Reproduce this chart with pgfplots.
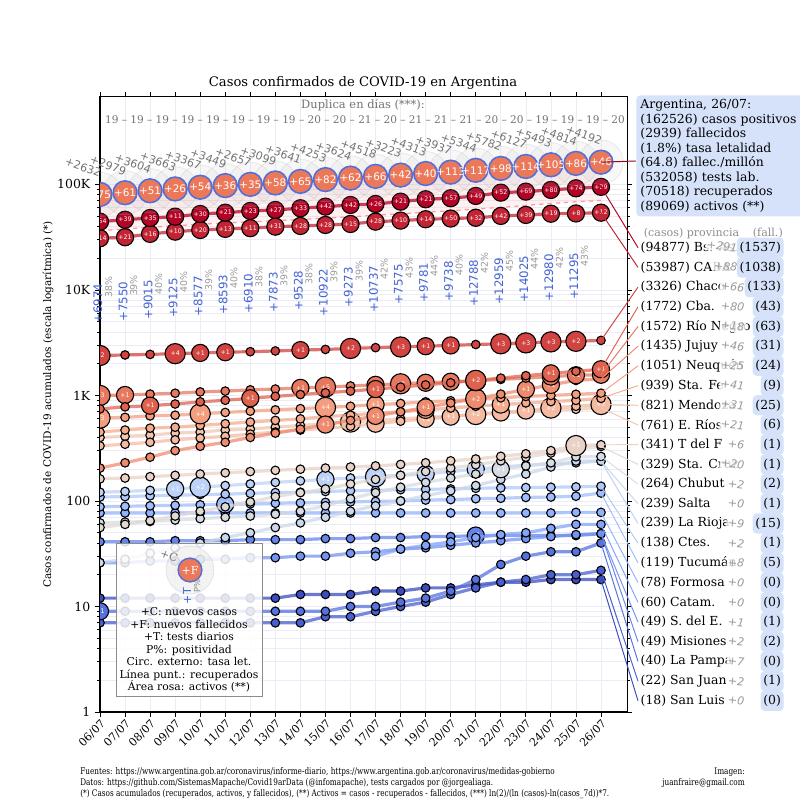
\documentclass[border=0pt]{standalone}
\usepackage{pgfplots}
\pgfplotsset{compat=1.18}
\usepackage{pgfplotstable}
\usepackage{fontspec}
\setmainfont{DejaVu Serif}
\setsansfont{DejaVu Sans}
\newfontfamily\condfont[FakeStretch=0.8]{DejaVu Serif}
\newcommand\fs[1]{\fontsize{#1}{#1}\selectfont}
\newcommand\provfont{\sffamily\fontsize{4.5}{5}\selectfont}

% coolwarm-like colours, by rank of cases
\definecolor{cBA}{RGB}{180,4,38}
\definecolor{cCABA}{RGB}{195,36,52}
\definecolor{cCha}{RGB}{209,68,65}
\definecolor{cCba}{RGB}{223,98,79}
\definecolor{cRN}{RGB}{231,119,95}
\definecolor{cJuj}{RGB}{238,139,111}
\definecolor{cNeu}{RGB}{244,158,127}
\definecolor{cSF}{RGB}{244,172,141}
\definecolor{cMen}{RGB}{245,187,162}
\definecolor{cER}{RGB}{242,199,178}
\definecolor{cTdF}{RGB}{233,209,197}
\definecolor{cSCr}{RGB}{225,217,213}
\definecolor{cChu}{RGB}{215,219,226}
\definecolor{cSal}{RGB}{203,215,235}
\definecolor{cLR}{RGB}{189,210,247}
\definecolor{cCtes}{RGB}{175,200,250}
\definecolor{cTuc}{RGB}{160,190,252}
\definecolor{cFor}{RGB}{145,179,254}
\definecolor{cCat}{RGB}{130,164,249}
\definecolor{cSdE}{RGB}{115,148,241}
\definecolor{cMis}{RGB}{100,132,235}
\definecolor{cLP}{RGB}{86,114,222}
\definecolor{cSJ}{RGB}{73,95,206}
\definecolor{cSL}{RGB}{59,76,192}
\definecolor{cArg}{RGB}{236,120,90}
\definecolor{cArgE}{RGB}{80,110,220}
\definecolor{tblue}{RGB}{68,100,210}
\definecolor{infob}{RGB}{214,226,250}
\definecolor{gridc}{RGB}{236,236,246}

% Argentina: day, cases, new deaths, new cases
\pgfplotstableread{
d v f c
6 80447 +75 +2632
7 83426 +61 +2979
8 87030 +51 +3604
9 90693 +26 +3663
10 94060 +54 +3367
11 97509 +36 +3449
12 100166 +35 +2657
13 103265 +58 +3099
14 106910 +65 +3641
15 111160 +82 +4253
16 114783 +62 +3624
17 119301 +66 +4518
18 122524 +42 +3223
19 126837 +40 +4313
20 130774 +113 +3937
21 136118 +117 +5344
22 141900 +98 +5782
23 148027 +114 +6127
24 153520 +105 +5493
25 158334 +86 +4814
26 162526 +46 +4192
}\argtab

% daily tests and positivity (placed under the cases curve)
\pgfplotstableread{
d v t p
6 80447 6974 38
7 83426 7550 39
8 87030 9015 40
9 90693 9125 40
10 94060 8577 39
11 97509 8593 40
12 100166 6910 38
13 103265 7873 39
14 106910 9528 38
15 111160 10922 39
16 114783 9273 39
17 119301 10737 42
18 122524 7575 43
19 126837 9781 44
20 130774 9738 40
21 136118 12788 42
22 141900 12959 45
23 148027 14025 44
24 153520 12980 42
25 158334 11295 43
}\testtab

\tikzset{labnode/.style={anchor=center, text=white, font=\provfont, inner sep=0pt}}
% one province: line, small circles, bigger circles with the new deaths
\newcommand\prov[2]{%
  \addplot[color=#1, line width=2.3pt, opacity=0.75, forget plot] table[x=d,y=v,row sep=\\]{#2};
  \addplot[only marks, mark=*, mark size=3.1pt, forget plot,
    mark options={fill=#1, draw=black, line width=0.8pt}] table[x=d,y=v,row sep=\\]{#2};
  \addplot[only marks, mark=*, mark size=6.2pt, forget plot,
    mark options={fill=#1, draw=black, line width=0.8pt},
    restrict expr to domain={\thisrow{s}}{4:6.8},
    nodes near coords, point meta=explicit symbolic, every node near coord/.style={labnode}]
    table[x=d,y=v,meta=l,row sep=\\]{#2};
  \addplot[only marks, mark=*, mark size=7.3pt, forget plot,
    mark options={fill=#1, draw=black, line width=0.8pt},
    restrict expr to domain={\thisrow{s}}{6.8:100},
    nodes near coords, point meta=explicit symbolic, every node near coord/.style={labnode}]
    table[x=d,y=v,meta=l,row sep=\\]{#2};
}

\begin{document}
\begin{tikzpicture}
\useasboundingbox (0,0) rectangle (578.16pt,578.16pt);
\begin{axis}[
  at={(72.27pt,63.6pt)}, anchor=south west,
  scale only axis, width=380.9pt, height=444.5pt,
  ymode=log, xmin=6, xmax=27.04, ymin=1, ymax=675000,
  xtick={6,...,26},
  xticklabels={06/07,07/07,08/07,09/07,10/07,11/07,12/07,13/07,14/07,15/07,16/07,17/07,18/07,19/07,20/07,21/07,22/07,23/07,24/07,25/07,26/07},
  ytick={1,10,100,1000,10000,100000},
  yticklabels={1,10,100,1K,10K,100K},
  x tick label style={rotate=45, anchor=north east, font=\fs{8}, inner sep=1pt},
  y tick label style={font=\fs{9}},
  tick align=outside, major tick length=3.5pt, minor tick length=2pt,
  tick style={black, line width=0.6pt},
  grid=both, major grid style={gridc, line width=0.5pt}, minor grid style={gridc, line width=0.5pt},
  axis line style={line width=0.8pt},
  clip mode=individual, clip marker paths=true,
  ylabel={Casos confirmados de COVID-19 acumulados (escala logarítmica) (*)},
  ylabel style={font=\fs{7.6}, at={(axis description cs:-0.0987,0.5)}, anchor=center, rotate=0},
]

% active area and recovered
\addplot[fill=pink, fill opacity=0.22, draw=none, forget plot] coordinates {
 (6,80447) (7,83426) (8,87030) (9,90693) (10,94060) (11,97509) (12,100166)
 (13,103265) (14,106910) (15,111160) (16,114783) (17,119301) (18,122524)
 (19,126837) (20,130774) (21,136118) (22,141900) (23,148027) (24,153520)
 (25,158334) (26,162526)
 (26,70518) (25,68500) (24,66000) (23,63300) (22,60600) (21,58300) (20,56300)
 (19,54400) (18,52700) (17,51000) (16,49300) (15,47900) (14,46500) (13,45300)
 (12,44100) (11,43100) (10,41900) (9,40600) (8,39200) (7,37800) (6,36500)};
\addplot[color=pink!80!red, dashed, line width=0.9pt, forget plot] coordinates {
 (6,36500) (7,37800) (8,39200) (9,40600) (10,41900) (11,43100) (12,44100)
 (13,45300) (14,46500) (15,47900) (16,49300) (17,51000) (18,52700) (19,54400)
 (20,56300) (21,58300) (22,60600) (23,63300) (24,66000) (25,68500) (26,70518)};

% provinces, from the smallest to the largest
\prov{cSL}{d v s l\\6 12 3.2 {}\\7 12 3.2 {}\\8 12 3.2 {}\\9 12 3.2 {}\\10 12 3.2 {}\\11 12 3.2 {}\\12 12 3.2 {}\\13 12 3.2 {}\\14 13 3.2 {}\\15 13 3.2 {}\\16 13 3.2 {}\\17 14 3.2 {}\\18 14 3.2 {}\\19 15 3.2 {}\\20 15 3.2 {}\\21 16 3.2 {}\\22 17 3.2 {}\\23 17 3.2 {}\\24 18 3.2 {}\\25 18 3.2 {}\\26 18 3.2 {}\\}
\prov{cSJ}{d v s l\\6 7 3.2 {}\\7 7 3.2 {}\\8 7 3.2 {}\\9 7 3.2 {}\\10 7 3.2 {}\\11 7 3.2 {}\\12 7 3.2 {}\\13 7 3.2 {}\\14 7 3.2 {}\\15 8 3.2 {}\\16 8 3.2 {}\\17 9 3.2 {}\\18 10 3.2 {}\\19 11 3.2 {}\\20 13 3.2 {}\\21 15 3.2 {}\\22 17 3.2 {}\\23 18 3.2 {}\\24 20 3.2 {}\\25 20 3.2 {}\\26 22 3.2 {}\\}
\prov{cLP}{d v s l\\6 9 6 +1\\7 9 3.2 {}\\8 9 3.2 {}\\9 9 3.2 {}\\10 9 3.2 {}\\11 9 3.2 {}\\12 9 3.2 {}\\13 9 3.2 {}\\14 9 3.2 {}\\15 9 3.2 {}\\16 10 3.2 {}\\17 10 3.2 {}\\18 11 3.2 {}\\19 12 3.2 {}\\20 14 3.2 {}\\21 18 3.2 {}\\22 25 3.2 {}\\23 30 3.2 {}\\24 33 3.2 {}\\25 33 3.2 {}\\26 40 3.2 {}\\}
\prov{cMis}{d v s l\\6 41 3.2 {}\\7 41 3.2 {}\\8 41 3.2 {}\\9 42 3.2 {}\\10 42 3.2 {}\\11 42 3.2 {}\\12 43 3.2 {}\\13 43 3.2 {}\\14 43 3.2 {}\\15 44 3.2 {}\\16 44 3.2 {}\\17 45 3.2 {}\\18 45 3.2 {}\\19 46 3.2 {}\\20 46 3.2 {}\\21 47 6 +1\\22 47 3.2 {}\\23 47 3.2 {}\\24 47 3.2 {}\\25 47 3.2 {}\\26 49 3.2 {}\\}
\prov{cSdE}{d v s l\\6 26 3.2 {}\\7 26 3.2 {}\\8 27 3.2 {}\\9 27 3.2 {}\\10 28 3.2 {}\\11 28 3.2 {}\\12 29 3.2 {}\\13 29 3.2 {}\\14 30 3.2 {}\\15 30 3.2 {}\\16 32 3.2 {}\\17 33 3.2 {}\\18 35 3.2 {}\\19 36 3.2 {}\\20 38 3.2 {}\\21 40 3.2 {}\\22 42 3.2 {}\\23 44 3.2 {}\\24 46 3.2 {}\\25 48 3.2 {}\\26 49 3.2 {}\\}
\prov{cCat}{d v s l\\17 30 3.2 {}\\18 35 3.2 {}\\19 38 3.2 {}\\20 41 3.2 {}\\21 45 3.2 {}\\22 48 3.2 {}\\23 50 3.2 {}\\24 55 3.2 {}\\25 60 3.2 {}\\26 60 3.2 {}\\}
\prov{cFor}{d v s l\\6 77 3.2 {}\\7 77 3.2 {}\\8 77 3.2 {}\\9 77 3.2 {}\\10 77 3.2 {}\\11 77 3.2 {}\\12 77 3.2 {}\\13 77 3.2 {}\\14 77 3.2 {}\\15 77 3.2 {}\\16 77 3.2 {}\\17 77 3.2 {}\\18 77 3.2 {}\\19 77 3.2 {}\\20 77 3.2 {}\\21 77 3.2 {}\\22 77 3.2 {}\\23 77 3.2 {}\\24 77 3.2 {}\\25 78 3.2 {}\\26 78 3.2 {}\\}
\prov{cTuc}{d v s l\\6 88 3.2 {}\\7 89 3.2 {}\\8 90 3.2 {}\\9 91 3.2 {}\\10 92 3.2 {}\\11 93 6 +1\\12 94 3.2 {}\\13 95 3.2 {}\\14 96 3.2 {}\\15 97 3.2 {}\\16 98 3.2 {}\\17 99 3.2 {}\\18 100 3.2 {}\\19 102 3.2 {}\\20 103 3.2 {}\\21 105 3.2 {}\\22 106 3.2 {}\\23 108 3.2 {}\\24 109 3.2 {}\\25 111 3.2 {}\\26 119 3.2 {}\\}
\prov{cCtes}{d v s l\\6 109 3.2 {}\\7 110 3.2 {}\\8 112 3.2 {}\\9 113 3.2 {}\\10 115 3.2 {}\\11 116 3.2 {}\\12 118 3.2 {}\\13 120 3.2 {}\\14 121 3.2 {}\\15 123 3.2 {}\\16 125 3.2 {}\\17 126 3.2 {}\\18 128 3.2 {}\\19 129 3.2 {}\\20 130 3.2 {}\\21 132 3.2 {}\\22 133 3.2 {}\\23 134 3.2 {}\\24 135 3.2 {}\\25 136 3.2 {}\\26 138 3.2 {}\\}
\prov{cLR}{d v s l\\6 121 3.2 {}\\7 123 3.2 {}\\8 126 3.2 {}\\9 130 6.5 +1\\10 135 7 +2\\11 140 3.2 {}\\12 145 3.2 {}\\13 150 3.2 {}\\14 155 3.2 {}\\15 160 6.5 +1\\16 165 3.2 {}\\17 170 7 +2\\18 175 3.2 {}\\19 180 6.5 +1\\20 190 3.2 {}\\21 200 6.5 +1\\22 210 3.2 {}\\23 218 3.2 {}\\24 224 3.2 {}\\25 230 3.2 {}\\26 239 3.2 {}\\}
\prov{cSal}{d v s l\\6 26 3.2 {}\\7 28 3.2 {}\\8 32 3.2 {}\\9 36 3.2 {}\\10 40 3.2 {}\\11 45 3.2 {}\\12 50 3.2 {}\\13 56 3.2 {}\\14 62 3.2 {}\\15 70 3.2 {}\\16 80 3.2 {}\\17 90 3.2 {}\\18 100 3.2 {}\\19 112 3.2 {}\\20 125 3.2 {}\\21 140 3.2 {}\\22 160 3.2 {}\\23 180 3.2 {}\\24 210 3.2 {}\\25 239 3.2 {}\\26 239 3.2 {}\\}
\prov{cChu}{d v s l\\6 62 3.2 {}\\7 63 3.2 {}\\8 64 3.2 {}\\9 66 3.2 {}\\10 68 3.2 {}\\11 70 3.2 {}\\12 72 3.2 {}\\13 75 3.2 {}\\14 80 3.2 {}\\15 90 3.2 {}\\16 105 3.2 {}\\17 120 3.2 {}\\18 135 3.2 {}\\19 150 3.2 {}\\20 165 3.2 {}\\21 180 3.2 {}\\22 200 6 +1\\23 215 3.2 {}\\24 230 3.2 {}\\25 262 3.2 {}\\26 264 3.2 {}\\}
\prov{cSCr}{d v s l\\6 56 3.2 {}\\7 60 3.2 {}\\8 65 3.2 {}\\9 72 3.2 {}\\10 80 3.2 {}\\11 88 3.2 {}\\12 98 3.2 {}\\13 110 3.2 {}\\14 120 3.2 {}\\15 130 3.2 {}\\16 145 3.2 {}\\17 160 3.2 {}\\18 175 3.2 {}\\19 190 3.2 {}\\20 205 3.2 {}\\21 220 3.2 {}\\22 240 3.2 {}\\23 260 3.2 {}\\24 285 3.2 {}\\25 309 3.2 {}\\26 329 3.2 {}\\}
\prov{cTdF}{d v s l\\6 162 3.2 {}\\7 165 3.2 {}\\8 170 3.2 {}\\9 175 3.2 {}\\10 180 3.2 {}\\11 185 3.2 {}\\12 190 3.2 {}\\13 195 3.2 {}\\14 200 3.2 {}\\15 205 3.2 {}\\16 210 3.2 {}\\17 215 3.2 {}\\18 222 3.2 {}\\19 230 3.2 {}\\20 240 3.2 {}\\21 250 3.2 {}\\22 265 3.2 {}\\23 280 3.2 {}\\24 300 3.2 {}\\25 335 7 +1\\26 341 3.2 {}\\}
\prov{cER}{d v s l\\6 400 3.2 {}\\7 410 3.2 {}\\8 420 3.2 {}\\9 440 3.2 {}\\10 450 3.2 {}\\11 470 3.2 {}\\12 480 3.2 {}\\13 500 3.2 {}\\14 520 3.2 {}\\15 540 3.2 {}\\16 560 7 +3\\17 580 3.2 {}\\18 600 3.2 {}\\19 620 3.2 {}\\20 640 3.2 {}\\21 660 3.2 {}\\22 680 3.2 {}\\23 700 3.2 {}\\24 720 3.2 {}\\25 740 3.2 {}\\26 761 3.2 {}\\}
\prov{cMen}{d v s l\\6 333 3.2 {}\\7 345 3.2 {}\\8 360 3.2 {}\\9 380 3.2 {}\\10 395 3.2 {}\\11 410 3.2 {}\\12 430 3.2 {}\\13 450 3.2 {}\\14 470 3.2 {}\\15 490 3.2 {}\\16 510 3.2 {}\\17 540 6.5 +1\\18 570 3.2 {}\\19 600 6.5 +1\\20 630 6.5 +1\\21 660 7 +2\\22 690 6.5 +1\\23 720 6.5 +1\\24 760 7 +2\\25 790 3.2 {}\\26 821 7.5 +3\\}
\prov{cSF}{d v s l\\6 450 3.2 {}\\7 470 3.2 {}\\8 490 3.2 {}\\9 500 3.2 {}\\10 520 3.2 {}\\11 540 3.2 {}\\12 560 3.2 {}\\13 580 3.2 {}\\14 600 3.2 {}\\15 630 3.2 {}\\16 650 3.2 {}\\17 680 3.2 {}\\18 700 3.2 {}\\19 730 6.5 +1\\20 760 3.2 {}\\21 790 3.2 {}\\22 820 6.5 +1\\23 850 3.2 {}\\24 875 3.2 {}\\25 898 3.2 {}\\26 939 3.2 {}\\}
\prov{cNeu}{d v s l\\6 610 7 +3\\7 620 3.2 {}\\8 640 3.2 {}\\9 650 3.2 {}\\10 670 7.5 +4\\11 690 3.2 {}\\12 710 3.2 {}\\13 730 3.2 {}\\14 750 3.2 {}\\15 770 7.5 +4\\16 790 3.2 {}\\17 820 6.5 +1\\18 840 3.2 {}\\19 870 3.2 {}\\20 890 3.2 {}\\21 920 6.5 +1\\22 950 3.2 {}\\23 980 3.2 {}\\24 1000 3.2 {}\\25 1026 3.2 {}\\26 1051 3.2 {}\\}
\prov{cJuj}{d v s l\\6 205 3.2 {}\\7 230 3.2 {}\\8 260 3.2 {}\\9 300 3.2 {}\\10 330 3.2 {}\\11 360 3.2 {}\\12 400 3.2 {}\\13 440 3.2 {}\\14 480 3.2 {}\\15 530 6.5 +1\\16 580 3.2 {}\\17 640 6.5 +1\\18 700 3.2 {}\\19 770 6.5 +1\\20 850 3.2 {}\\21 930 7 +2\\22 1030 3.2 {}\\23 1140 6.5 +1\\24 1260 6.5 +1\\25 1389 3.2 {}\\26 1435 3.2 {}\\}
\prov{cRN}{d v s l\\6 1000 7 +3\\7 1010 6.5 +1\\8 1030 3.2 {}\\9 1050 3.2 {}\\10 1080 3.2 {}\\11 1100 3.2 {}\\12 1130 3.2 {}\\13 1150 3.2 {}\\14 1180 6.5 +1\\15 1200 7.5 +5\\16 1230 3.2 {}\\17 1260 6.5 +1\\18 1290 7 +2\\19 1320 6.5 +1\\20 1350 6.5 +1\\21 1380 7 +2\\22 1420 3.2 {}\\23 1460 3.2 {}\\24 1510 6.5 +1\\25 1554 6.5 +1\\26 1572 6.5 +1\\}
\prov{cCba}{d v s l\\6 745 3.2 {}\\7 780 3.2 {}\\8 800 6.5 +1\\9 830 3.2 {}\\10 870 3.2 {}\\11 900 3.2 {}\\12 940 6.5 +1\\13 980 3.2 {}\\14 1020 3.2 {}\\15 1060 3.2 {}\\16 1100 3.2 {}\\17 1150 6.5 +1\\18 1200 3.2 {}\\19 1260 3.2 {}\\20 1320 3.2 {}\\21 1390 7 +2\\22 1460 3.2 {}\\23 1540 3.2 {}\\24 1620 6.5 +1\\25 1692 3.2 {}\\26 1772 6.5 +1\\}
\prov{cCha}{d v s l\\6 2390 7 +2\\7 2420 3.2 {}\\8 2450 3.2 {}\\9 2490 7.5 +4\\10 2530 6.5 +1\\11 2570 6.5 +1\\12 2600 3.2 {}\\13 2640 3.2 {}\\14 2690 6.5 +1\\15 2730 3.2 {}\\16 2790 7 +2\\17 2840 3.2 {}\\18 2880 7 +3\\19 2930 6.5 +1\\20 2980 6.5 +1\\21 3040 3.2 {}\\22 3090 7 +3\\23 3150 7 +3\\24 3220 7 +3\\25 3260 7 +2\\26 3326 3.2 {}\\}
\prov{cCABA}{d v s l\\6 30900 6.1 +14\\7 31600 6.1 +21\\8 34000 6.1 +16\\9 35700 6.1 +10\\10 37000 6.1 +20\\11 37900 6.1 +13\\12 38500 6.1 +11\\13 39800 6.1 +31\\14 40400 6.1 +28\\15 41300 6.1 +28\\16 42200 6.1 +15\\17 44400 6.1 +28\\18 45400 6.1 +10\\19 46800 6.1 +14\\20 47500 6.1 +50\\21 48300 6.1 +32\\22 50300 6.1 +42\\23 51400 6.1 +39\\24 52800 6.1 +19\\25 53099 6.1 +8\\26 53987 6.1 +12\\}
\prov{cBA}{d v s l\\6 44400 6.1 +54\\7 46300 6.1 +39\\8 48100 6.1 +35\\9 49500 6.1 +11\\10 52500 6.1 +30\\11 54000 6.1 +21\\12 56100 6.1 +23\\13 57300 6.1 +27\\14 59500 6.1 +33\\15 61600 6.1 +42\\16 63900 6.1 +42\\17 65300 6.1 +26\\18 68700 6.1 +21\\19 72400 6.1 +21\\20 74000 6.1 +57\\21 77800 6.1 +49\\22 83600 6.1 +52\\23 85500 6.1 +69\\24 88700 6.1 +80\\25 91960 6.1 +74\\26 94877 6.1 +29\\}

% Argentina: outer circle (fatality rate), circle with new deaths
\addplot[only marks, mark=*, mark size=16pt, forget plot,
  mark options={fill=gray!60, fill opacity=0.10, draw=gray!60, draw opacity=0.25, line width=0.6pt}]
  table[x=d,y=v]{\argtab};
\addplot[only marks, mark=*, mark size=8.6pt, forget plot,
  mark options={fill=cArg, draw=cArgE, line width=1.1pt},
  nodes near coords, point meta=explicit symbolic,
  every node near coord/.style={anchor=center, text=white, font=\sffamily\fs{7.5}, inner sep=0pt}]
  table[x=d,y=v,meta=f]{\argtab};
% new cases above the circles
\addplot[only marks, mark=none, forget plot, restrict x to domain=8:26,
  nodes near coords, point meta=explicit symbolic,
  every node near coord/.style={xshift=-0.5pt, yshift=12pt, rotate=-20, anchor=south east, text=black!55, font=\sffamily\fs{8}, inner sep=0pt}]
  table[x=d,y=v,meta=c]{\argtab};
\node[xshift=-0.5pt, yshift=12pt, rotate=-20, anchor=south east, text=black!55, font=\sffamily\fs{8}, inner sep=0pt] at (axis cs:6,80447) {+2632};
\node[xshift=-0.5pt, yshift=12pt, rotate=-20, anchor=south east, text=black!55, font=\sffamily\fs{8}, inner sep=0pt] at (axis cs:7,83426) {+2979};
% tests and positivity
\addplot[only marks, mark=none, forget plot, restrict x to domain=7:26,
  nodes near coords={+\pgfplotspointmeta}, point meta=explicit symbolic,
  every node near coord/.style={xshift=-1.5pt, yshift=-64.3pt, rotate=90, anchor=east, text=tblue, font=\sffamily\fs{8.5}, inner sep=0pt}]
  table[x=d,y=v,meta=t]{\testtab};
\node[xshift=-1.5pt, yshift=-64.3pt, rotate=90, anchor=east, text=tblue, font=\sffamily\fs{8.5}, inner sep=0pt] at (axis cs:6,80447) {+6974};
\addplot[only marks, mark=none, forget plot,
  nodes near coords={\pgfplotspointmeta\%}, point meta=explicit symbolic,
  every node near coord/.style={xshift=6.2pt, yshift=-59.3pt, rotate=90, anchor=east, text=black!40, font=\sffamily\fs{6.8}, inner sep=0pt}]
  table[x=d,y=v,meta=p]{\testtab};

% end points for the connectors
\coordinate (eArg) at (axis cs:26,162526);
\coordinate (e0) at (axis cs:26,94877);
\coordinate (e1) at (axis cs:26,53987);
\coordinate (e2) at (axis cs:26,3326);
\coordinate (e3) at (axis cs:26,1772);
\coordinate (e4) at (axis cs:26,1572);
\coordinate (e5) at (axis cs:26,1435);
\coordinate (e6) at (axis cs:26,1051);
\coordinate (e7) at (axis cs:26,939);
\coordinate (e8) at (axis cs:26,821);
\coordinate (e9) at (axis cs:26,761);
\coordinate (e10) at (axis cs:26,341);
\coordinate (e11) at (axis cs:26,329);
\coordinate (e12) at (axis cs:26,264);
\coordinate (e13) at (axis cs:26,239);
\coordinate (e14) at (axis cs:26,239);
\coordinate (e15) at (axis cs:26,138);
\coordinate (e16) at (axis cs:26,119);
\coordinate (e17) at (axis cs:26,78);
\coordinate (e18) at (axis cs:26,60);
\coordinate (e19) at (axis cs:26,49);
\coordinate (e20) at (axis cs:26,49);
\coordinate (e21) at (axis cs:26,40);
\coordinate (e22) at (axis cs:26,22);
\coordinate (e23) at (axis cs:26,18);
\end{axis}

% everything around the axis, in pixel units of the 800x800 picture
\begin{scope}[x=0.7227pt, y=-0.7227pt, yshift=578.16pt]
  \node[font=\fs{9.5}] at (363,83) {Casos confirmados de COVID-19 en Argentina};
  \node[font=\fs{8.3}, text=black!55] at (363,105) {Duplica en días (***):};
  \node[font=\fs{7.6}, text=black!55] at (365,120) {19 -- 19 -- 19 -- 19 -- 19 -- 19 -- 19 -- 19 -- 20 -- 20 -- 21 -- 20 -- 21 -- 21 -- 21 -- 20 -- 20 -- 19 -- 19 -- 19 -- 20};

  % info box
  \draw[cBA!80!black, line width=0.7pt] (eArg) -- (636,161);
  \node[anchor=north west, fill=infob, rounded corners=3pt, inner sep=3pt, text width=122pt, align=left,
        font=\fontsize{9}{10.5}\selectfont] at (636,95)
    {Argentina, 26/07:\\(162526) casos positivos\\(2939) fallecidos\\(1.8\%) tasa letalidad\\(64.8) fallec./millón\\(532058) tests lab.\\(70518) recuperados\\(89069) activos (**)};

  \node[anchor=west, font=\fs{8}, text=black!45] at (639,233) {(casos) provincia};
  \node[anchor=west, font=\fs{8}, text=black!45] at (748,233) {(fall.)};

  \foreach \i/\c/\name/\nc/\fa/\col in {
     0/94877/Bs. As./+2917/1537/cBA, 1/53987/CABA/+888/1038/cCABA, 2/3326/Chaco/+66/133/cCha,
     3/1772/Cba./+80/43/cCba, 4/1572/Río Negro/+18/63/cRN, 5/1435/Jujuy/+46/31/cJuj,
     6/1051/Neuquén/+25/24/cNeu, 7/939/Sta. Fe/+41/9/cSF, 8/821/Mendoza/+31/25/cMen,
     9/761/E. Ríos/+21/6/cER, 10/341/T del F/+6/1/cTdF, 11/329/Sta. Cruz/+20/1/cSCr,
     12/264/Chubut/+2/2/cChu, 13/239/Salta/+0/1/cSal, 14/239/La Rioja/+9/15/cLR,
     15/138/Ctes./+2/1/cCtes, 16/119/Tucumán/+8/5/cTuc, 17/78/Formosa/+0/0/cFor,
     18/60/Catam./+0/0/cCat, 19/49/S. del E./+1/1/cSdE, 20/49/Misiones/+2/2/cMis,
     21/40/La Pampa/+7/0/cLP, 22/22/San Juan/+2/1/cSJ, 23/18/San Luis/+0/0/cSL} {
    \pgfmathsetmacro\yy{247.7+19.7*\i}
    \draw[\col, line width=0.7pt] (e\i) -- (638,\yy);
    \node[anchor=west, font=\fs{9}, inner sep=1pt] at (639,\yy) {(\c) \name};
    \node[anchor=east, font=\sffamily\itshape\fs{8}, text=black!40, fill=white, fill opacity=0.8, text opacity=1,
          inner sep=1pt, rotate=-6] at (746,\yy+1) {\nc};
    \node[anchor=east, font=\fs{9}, fill=infob, rounded corners=3pt, inner xsep=2pt, inner ysep=3.2pt] at (784,\yy) {(\fa)};
  }

  % legend box
  \draw[black!45, fill=white, fill opacity=0.85, line width=0.6pt] (116,543) rectangle (262,696);
  \fill[gray!50, opacity=0.18] (190,570) circle (17.3pt);
  \draw[gray!50, opacity=0.35, line width=0.6pt] (190,570) circle (17.3pt);
  \draw[cArgE, fill=cArg, line width=1pt] (190,570) circle (8.6pt);
  \node[text=white, font=\fs{8}] at (190,570) {+F};
  \node[text=black!55, font=\fs{8}, rotate=-20] at (169,556) {+C};
  \node[text=tblue, font=\sffamily\fs{8}, rotate=90] at (187,596) {+T};
  \node[text=black!45, font=\sffamily\fs{6}, rotate=90] at (197,586) {P\%};
  \node[align=center, font=\fontsize{7.8}{9}\selectfont] at (189,650)
    {+C: nuevos casos\\+F: nuevos fallecidos\\+T: tests diarios\\P\%: positividad\\Circ. externo: tasa let.\\Línea punt.: recuperados\\Área rosa: activos (**)};

  % footer
  \node[anchor=west, font=\condfont\fs{6.6}, inner sep=0pt] at (80,772)
    {Fuentes: https://www.argentina.gob.ar/coronavirus/informe-diario, https://www.argentina.gob.ar/coronavirus/medidas-gobierno};
  \node[anchor=west, font=\condfont\fs{6.6}, inner sep=0pt] at (80,783)
    {Datos: https://github.com/SistemasMapache/Covid19arData (@infomapache), tests cargados por @jorgealiaga.};
  \node[anchor=west, font=\condfont\fs{6.6}, inner sep=0pt] at (80,794)
    {(*) Casos acumulados (recuperados, activos, y fallecidos), (**) Activos = casos - recuperados - fallecidos, (***) ln(2)/(ln (casos)-ln(casos\_7d))*7.};
  \node[anchor=east, font=\condfont\fs{6.6}, inner sep=0pt] at (745,772) {Imagen:};
  \node[anchor=east, font=\condfont\fs{6.6}, inner sep=0pt] at (745,783) {juanfraire@gmail.com};
\end{scope}
\end{tikzpicture}
\end{document}
